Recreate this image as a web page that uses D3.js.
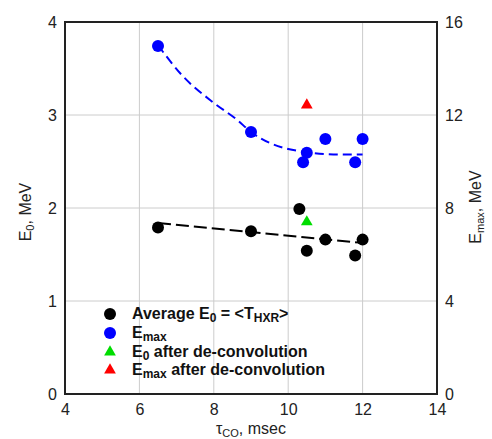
<!DOCTYPE html>
<html><head><meta charset="utf-8">
<script src="https://cdn.jsdelivr.net/npm/d3@7"></script>
<style>
html,body{margin:0;padding:0;background:#fff;}
svg{display:block;font-family:"Liberation Sans",Arial,sans-serif;}
</style></head>
<body>
<svg id="chart" width="492" height="439"></svg>
<script>
// ---- data ----
const xTicks = [4, 6, 8, 10, 12, 14];
const yLeftTicks = [0, 1, 2, 3, 4];
const yRightTicks = [0, 4, 8, 12, 16];

const tauE0 = [6.5, 9.0, 10.3, 10.5, 11.0, 11.8, 12.0];
const valE0 = [1.79, 1.75, 1.99, 1.54, 1.66, 1.49, 1.66];

const tauEmax = [6.5, 9.0, 10.4, 10.5, 11.0, 11.8, 12.0];
const valEmax = [14.97, 11.27, 9.97, 10.38, 10.97, 9.97, 10.97];

const tauDeconv = [10.5];
const deconvE0 = [1.85];
const deconvEmax = [12.43];

// trend lines
const trendE0Tau = [6.5, 12.0];
const trendE0Val = [1.84, 1.625];
const trendEmaxTau = [6.5, 7.14, 8.0, 8.62, 9.0, 9.5, 10.0, 10.5, 11.0, 11.5, 12.0];
const trendEmaxVal = [15.0, 13.72, 12.52, 11.8, 11.27, 10.8, 10.54, 10.4, 10.32, 10.3, 10.3];

// ---- drawing ----
const svg = d3.select("#chart");
const L = 65, R = 437, T = 22, B = 394;
const x = d3.scaleLinear().domain([4, 14]).range([L, R]);
const y = d3.scaleLinear().domain([0, 4]).range([B, T]);
const yR = d3.scaleLinear().domain([0, 16]).range([B, T]);

// grid
const g = svg.append("g");
g.selectAll(".vg").data(xTicks.slice(1, -1)).enter().append("line")
  .attr("x1", d => x(d)).attr("x2", d => x(d)).attr("y1", T).attr("y2", B)
  .attr("stroke", "#cccccc").attr("stroke-width", 1);
g.selectAll(".hg").data(yLeftTicks.slice(1, -1)).enter().append("line")
  .attr("x1", L).attr("x2", R).attr("y1", d => y(d)).attr("y2", d => y(d))
  .attr("stroke", "#cccccc").attr("stroke-width", 1);

// axes (labels only, no tick marks)
const axB = svg.append("g").attr("transform", `translate(0,${B})`)
  .call(d3.axisBottom(x).tickValues(xTicks).tickSize(0).tickPadding(10).tickFormat(d3.format("d")));
const axL = svg.append("g").attr("transform", `translate(${L},0)`)
  .call(d3.axisLeft(y).tickValues(yLeftTicks).tickSize(0).tickPadding(8).tickFormat(d3.format("d")));
const axR = svg.append("g").attr("transform", `translate(${R},0)`)
  .call(d3.axisRight(yR).tickValues(yRightTicks).tickSize(0).tickPadding(8).tickFormat(d3.format("d")));
[axB, axL, axR].forEach(a => {
  a.select(".domain").remove();
  a.selectAll("text").attr("font-size", 16).attr("fill", "#222").attr("font-family", "Liberation Sans, Arial, sans-serif");
});

// frame
svg.append("rect").attr("x", L).attr("y", T).attr("width", R - L).attr("height", B - T)
  .attr("fill", "none").attr("stroke", "#222").attr("stroke-width", 2);

// trend lines
const lineE0 = d3.line().x((d, i) => x(trendE0Tau[i])).y(d => y(d));
svg.append("path").datum(trendE0Val).attr("d", lineE0)
  .attr("fill", "none").attr("stroke", "#000").attr("stroke-width", 2).attr("stroke-dasharray", "13,5");
const lineEmax = d3.line().x((d, i) => x(trendEmaxTau[i])).y(d => yR(d)).curve(d3.curveMonotoneX);
svg.append("path").datum(trendEmaxVal).attr("d", lineEmax)
  .attr("fill", "none").attr("stroke", "#0000ff").attr("stroke-width", 2).attr("stroke-dasharray", "9,5");

// points
svg.selectAll(".pE0").data(valE0).enter().append("circle")
  .attr("cx", (d, i) => x(tauE0[i])).attr("cy", d => y(d)).attr("r", 6).attr("fill", "#000");
svg.selectAll(".pEmax").data(valEmax).enter().append("circle")
  .attr("cx", (d, i) => x(tauEmax[i])).attr("cy", d => yR(d)).attr("r", 6).attr("fill", "#0000ff");
const tri = d3.symbol().type(d3.symbolTriangle).size(60);
svg.selectAll(".dE0").data(deconvE0).enter().append("path")
  .attr("d", tri).attr("transform", (d, i) => `translate(${x(tauDeconv[i])},${y(d)})`).attr("fill", "#00dd00");
svg.selectAll(".dEmax").data(deconvEmax).enter().append("path")
  .attr("d", tri).attr("transform", (d, i) => `translate(${x(tauDeconv[i])},${yR(d)})`).attr("fill", "#ff0000");

// axis titles
svg.append("text").attr("x", (L + R) / 2).attr("y", 434).attr("text-anchor", "middle")
  .attr("font-size", 16).attr("fill", "#222")
  .html('τ<tspan font-size="11" dy="3">CO</tspan><tspan dy="-3">, msec</tspan>');
svg.append("text").attr("transform", "translate(31,212) rotate(-90)").attr("text-anchor", "middle")
  .attr("font-size", 16).attr("fill", "#222")
  .html('E<tspan font-size="11" dy="3">0</tspan><tspan dy="-3">, MeV</tspan>');
svg.append("text").attr("transform", "translate(481,207) rotate(-90)").attr("text-anchor", "middle")
  .attr("font-size", 16).attr("fill", "#222")
  .html('E<tspan font-size="11" dy="3">max</tspan><tspan dy="-3">, MeV</tspan>');

// legend
const leg = svg.append("g").attr("font-size", 16).attr("font-weight", "bold").attr("fill", "#111");
const rowsY = [314, 333, 352, 370];
const mk = [
  {t: "c", c: "#000"}, {t: "c", c: "#0000ff"}, {t: "t", c: "#00dd00"}, {t: "t", c: "#ff0000"}
];
mk.forEach((m, i) => {
  if (m.t === "c") leg.append("circle").attr("cx", 110).attr("cy", rowsY[i]).attr("r", 6).attr("fill", m.c);
  else leg.append("path").attr("d", tri).attr("transform", `translate(110,${rowsY[i]})`).attr("fill", m.c);
});
const lx = 132;
leg.append("text").attr("x", lx).attr("y", rowsY[0] + 5)
  .html('Average E<tspan font-size="12" dy="3">0</tspan><tspan dy="-3"> = &lt;T</tspan><tspan font-size="12" dy="3">HXR</tspan><tspan dy="-3">&gt;</tspan>');
leg.append("text").attr("x", lx).attr("y", rowsY[1] + 5)
  .html('E<tspan font-size="12" dy="3">max</tspan>');
leg.append("text").attr("x", lx).attr("y", rowsY[2] + 5)
  .html('E<tspan font-size="12" dy="3">0</tspan><tspan dy="-3"> after de-convolution</tspan>');
leg.append("text").attr("x", lx).attr("y", rowsY[3] + 5)
  .html('E<tspan font-size="12" dy="3">max</tspan><tspan dy="-3"> after de-convolution</tspan>');
</script>
</body></html>
